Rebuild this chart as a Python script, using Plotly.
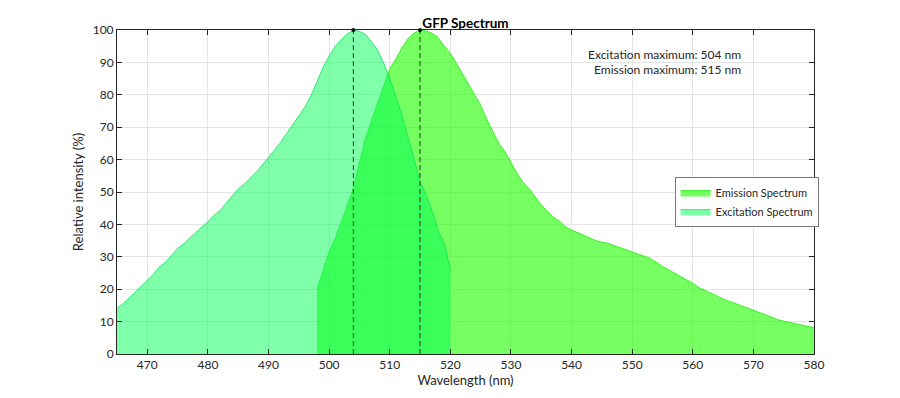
import plotly.graph_objects as go

# ---- data ----
exc_wl = list(range(465, 521))
exc_val = [14.2, 15.5, 17.3, 19.2, 21.0, 22.8, 24.6, 26.9, 28.3, 30.5,
           32.6, 34.0, 35.8, 37.6, 39.2, 40.8, 42.8, 44.3, 46.5, 48.8,
           51.0, 52.4, 54.2, 56.2, 58.4, 60.8, 63.2, 65.3, 68.1, 71.0,
           73.5, 76.2, 79.8, 84.0, 88.5, 92.0, 95.0, 97.0, 98.8, 100.0,
           99.6, 98.6, 96.4, 93.8, 89.8, 85.0, 79.5, 73.8, 67.0, 60.2,
           53.5, 49.0, 44.0, 38.0, 34.0, 26.0]

em_wl = list(range(498, 581))
em_val = [19.8, 26.0, 31.6, 35.5, 40.5, 46.0, 51.0, 59.0, 66.5, 72.0,
          77.5, 82.5, 88.0, 91.0, 94.5, 97.3, 99.0, 100.0, 99.7, 99.0,
          97.6, 95.0, 92.8, 89.7, 86.5, 83.0, 79.8, 76.8, 72.5, 68.5,
          65.0, 62.5, 59.0, 55.8, 53.0, 51.0, 48.5, 46.0, 44.0, 42.3,
          41.0, 39.3, 38.3, 37.5, 36.8, 36.0, 35.0, 34.5, 34.2, 33.5,
          32.8, 32.2, 31.6, 30.8, 30.0, 29.5, 28.3, 27.0, 26.0, 25.0,
          23.8, 22.8, 21.8, 20.5, 19.6, 18.6, 17.7, 17.0, 16.3, 15.6,
          15.0, 14.2, 13.6, 13.0, 12.3, 11.4, 10.6, 10.2, 9.7, 9.3,
          8.8, 8.4, 8.1]

peak_wl = [504, 515]
peak_val = [100, 100]
x_ticks = list(range(470, 581, 10))
y_ticks = list(range(0, 101, 10))

FONT = "Lato"
DARK = "#262626"

fig = go.Figure()

fig.add_trace(go.Scatter(
    x=em_wl, y=em_val, mode="lines", fill="tozeroy",
    name="Emission Spectrum",
    line=dict(color="rgba(40,235,20,0.85)", width=1),
    fillcolor="rgba(37,255,3,0.63)",
))
fig.add_trace(go.Scatter(
    x=exc_wl, y=exc_val, mode="lines", fill="tozeroy",
    name="Excitation Spectrum",
    line=dict(color="rgba(0,225,90,0.75)", width=1),
    fillcolor="rgba(0,255,85,0.5)",
))

for wl, v in zip(peak_wl, peak_val):
    fig.add_trace(go.Scatter(
        x=[wl, wl], y=[0, v], mode="lines",
        line=dict(color="#333333", width=1, dash="5px,3px"),
        showlegend=False, hoverinfo="skip",
    ))
fig.add_trace(go.Scatter(
    x=peak_wl, y=peak_val, mode="markers",
    marker=dict(color="black", size=4),
    showlegend=False, cliponaxis=False,
))

axis_common = dict(
    showline=True, linecolor=DARK, linewidth=1, mirror="ticks",
    ticks="inside", ticklen=5, tickcolor=DARK,
    showgrid=True, gridcolor="rgb(228,228,228)", gridwidth=1,
    zeroline=False,
    tickfont=dict(family=FONT, size=12, color=DARK),
)

fig.update_layout(
    width=900, height=398,
    margin=dict(l=109, r=94, t=22, b=52),
    paper_bgcolor="white", plot_bgcolor="white",
    font=dict(family=FONT, color=DARK),
    title=dict(text="<b>GFP Spectrum</b>", x=0.5, xref="paper",
               y=1.0, yref="paper", yanchor="bottom", pad=dict(b=2),
               font=dict(family=FONT, size=13.5, color="black")),
    xaxis=dict(range=[465, 580], tickvals=x_ticks,
               title=dict(text="Wavelength (nm)", standoff=4,
                          font=dict(family=FONT, size=13, color=DARK)),
               **axis_common),
    yaxis=dict(range=[0, 100], tickvals=y_ticks,
               title=dict(text="Relative intensity (%)", standoff=6,
                          font=dict(family=FONT, size=13, color=DARK)),
               **axis_common),
    legend=dict(x=0.80, y=0.546, xanchor="left", yanchor="top",
                bgcolor="white", bordercolor="rgb(120,120,120)", borderwidth=1,
                font=dict(family=FONT, size=11, color=DARK),
                itemwidth=30, tracegroupgap=0),
    showlegend=True,
    annotations=[
        dict(text="Excitation maximum: 504 nm", xref="paper", yref="paper",
             x=0.898, y=0.923, xanchor="right", yanchor="middle",
             showarrow=False, font=dict(family=FONT, size=12, color=DARK)),
        dict(text="Emission maximum: 515 nm", xref="paper", yref="paper",
             x=0.898, y=0.877, xanchor="right", yanchor="middle",
             showarrow=False, font=dict(family=FONT, size=12, color=DARK)),
    ],
)

fig.write_html("out.html")
